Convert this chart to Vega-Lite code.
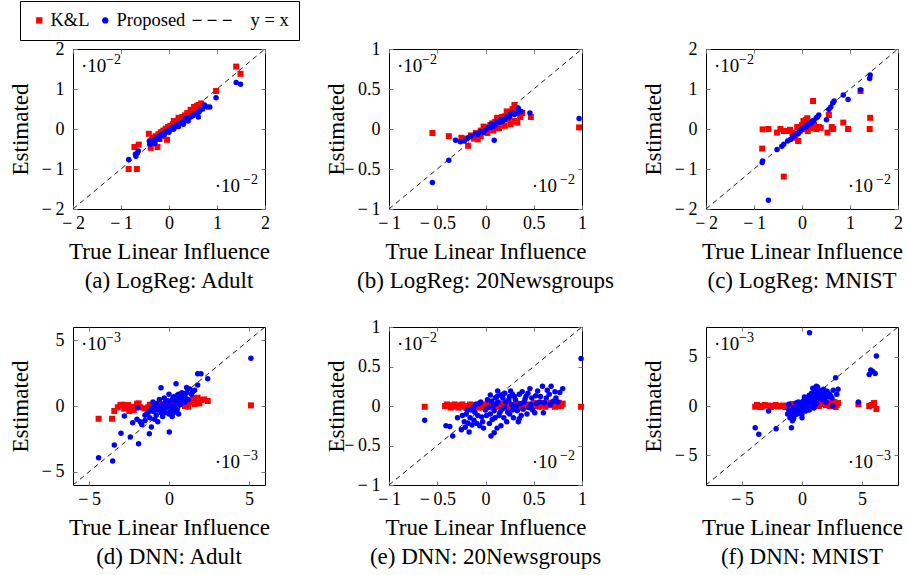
{
  "$schema": "https://vega.github.io/schema/vega-lite/v6.json",
  "padding": {"left": 8, "top": 0, "right": 0, "bottom": 0},
  "datasets": {
    "a": [
      {"s":"y = x","x":-2,"y":-2},{"s":"y = x","x":2,"y":2},
      {"s":"K&L","x":1.40,"y":1.56},{"s":"K&L","x":1.49,"y":1.38},{"s":"K&L","x":0.98,"y":0.95},{"s":"K&L","x":-0.84,"y":-1.00},{"s":"K&L","x":-0.67,"y":-1.00},{"s":"K&L","x":-0.72,"y":-0.45},{"s":"K&L","x":-0.63,"y":-0.39},{"s":"K&L","x":-0.42,"y":-0.12},{"s":"K&L","x":-0.38,"y":-0.47},{"s":"K&L","x":-0.24,"y":-0.45},{"s":"K&L","x":-0.04,"y":-0.27},{"s":"K&L","x":-0.33,"y":-0.22},{"s":"K&L","x":-0.28,"y":-0.18},{"s":"K&L","x":-0.22,"y":-0.13},{"s":"K&L","x":-0.17,"y":-0.08},{"s":"K&L","x":-0.12,"y":-0.04},{"s":"K&L","x":-0.07,"y":0.01},{"s":"K&L","x":-0.02,"y":0.05},{"s":"K&L","x":0.03,"y":0.08},{"s":"K&L","x":0.08,"y":0.12},{"s":"K&L","x":0.13,"y":0.16},{"s":"K&L","x":0.18,"y":0.21},{"s":"K&L","x":0.23,"y":0.25},{"s":"K&L","x":0.28,"y":0.30},{"s":"K&L","x":0.33,"y":0.34},{"s":"K&L","x":0.38,"y":0.40},{"s":"K&L","x":0.45,"y":0.48},{"s":"K&L","x":0.52,"y":0.55},{"s":"K&L","x":0.58,"y":0.58},{"s":"K&L","x":0.67,"y":0.64},{"s":"K&L","x":-0.30,"y":-0.30},{"s":"K&L","x":-0.15,"y":-0.18},{"s":"K&L","x":0.05,"y":0.00},{"s":"K&L","x":0.15,"y":0.07},{"s":"K&L","x":0.25,"y":0.15},{"s":"K&L","x":0.35,"y":0.22},{"s":"K&L","x":0.50,"y":0.40},{"s":"K&L","x":-0.20,"y":-0.25},{"s":"K&L","x":0.10,"y":0.20},{"s":"K&L","x":0.20,"y":0.28},{"s":"K&L","x":-0.35,"y":-0.27},{"s":"K&L","x":-0.25,"y":-0.20},{"s":"K&L","x":-0.10,"y":-0.08},{"s":"K&L","x":0.00,"y":0.00},{"s":"K&L","x":0.12,"y":0.10},{"s":"K&L","x":0.22,"y":0.18},{"s":"K&L","x":0.32,"y":0.26},{"s":"K&L","x":0.42,"y":0.36},{"s":"K&L","x":0.55,"y":0.50},{"s":"K&L","x":0.62,"y":0.60},{"s":"K&L","x":0.70,"y":0.58},{"s":"K&L","x":0.40,"y":0.30},
      {"s":"Proposed","x":1.40,"y":1.16},{"s":"Proposed","x":1.49,"y":1.12},{"s":"Proposed","x":0.98,"y":0.78},{"s":"Proposed","x":-0.84,"y":-0.76},{"s":"Proposed","x":-0.69,"y":-0.68},{"s":"Proposed","x":-0.66,"y":-0.60},{"s":"Proposed","x":-0.64,"y":-0.55},{"s":"Proposed","x":-0.70,"y":-0.63},{"s":"Proposed","x":-0.41,"y":-0.30},{"s":"Proposed","x":-0.40,"y":-0.38},{"s":"Proposed","x":-0.35,"y":-0.34},{"s":"Proposed","x":-0.30,"y":-0.28},{"s":"Proposed","x":-0.25,"y":-0.22},{"s":"Proposed","x":-0.20,"y":-0.18},{"s":"Proposed","x":-0.15,"y":-0.14},{"s":"Proposed","x":-0.10,"y":-0.10},{"s":"Proposed","x":-0.05,"y":-0.06},{"s":"Proposed","x":0.00,"y":-0.02},{"s":"Proposed","x":0.05,"y":0.02},{"s":"Proposed","x":0.10,"y":0.05},{"s":"Proposed","x":0.15,"y":0.09},{"s":"Proposed","x":0.20,"y":0.12},{"s":"Proposed","x":0.25,"y":0.16},{"s":"Proposed","x":0.30,"y":0.20},{"s":"Proposed","x":0.35,"y":0.22},{"s":"Proposed","x":0.40,"y":0.27},{"s":"Proposed","x":0.45,"y":0.30},{"s":"Proposed","x":0.50,"y":0.33},{"s":"Proposed","x":0.55,"y":0.38},{"s":"Proposed","x":0.61,"y":0.30},{"s":"Proposed","x":0.62,"y":0.42},{"s":"Proposed","x":0.70,"y":0.50},{"s":"Proposed","x":0.74,"y":0.60},{"s":"Proposed","x":0.80,"y":0.55},{"s":"Proposed","x":0.85,"y":0.55},{"s":"Proposed","x":-0.30,"y":-0.36},{"s":"Proposed","x":-0.10,"y":-0.15},{"s":"Proposed","x":0.10,"y":0.00},{"s":"Proposed","x":0.20,"y":0.06},{"s":"Proposed","x":0.30,"y":0.12},{"s":"Proposed","x":0.40,"y":0.20},{"s":"Proposed","x":-0.20,"y":-0.25},{"s":"Proposed","x":0.00,"y":-0.08},{"s":"Proposed","x":0.65,"y":0.47},{"s":"Proposed","x":0.58,"y":0.40},{"s":"Proposed","x":0.48,"y":0.34},{"s":"Proposed","x":0.35,"y":0.27}
    ],
    "b": [
      {"s":"y = x","x":-1,"y":-1},{"s":"y = x","x":1,"y":1},
      {"s":"K&L","x":-0.55,"y":-0.05},{"s":"K&L","x":-0.38,"y":-0.09},{"s":"K&L","x":-0.25,"y":-0.11},{"s":"K&L","x":-0.18,"y":-0.21},{"s":"K&L","x":-0.08,"y":-0.13},{"s":"K&L","x":0.33,"y":0.08},{"s":"K&L","x":0.47,"y":0.15},{"s":"K&L","x":0.97,"y":0.02},{"s":"K&L","x":0.30,"y":0.30},{"s":"K&L","x":0.38,"y":0.20},{"s":"K&L","x":-0.20,"y":-0.12},{"s":"K&L","x":-0.15,"y":-0.08},{"s":"K&L","x":-0.10,"y":-0.05},{"s":"K&L","x":-0.05,"y":-0.02},{"s":"K&L","x":0.00,"y":0.02},{"s":"K&L","x":0.05,"y":0.05},{"s":"K&L","x":0.10,"y":0.09},{"s":"K&L","x":0.15,"y":0.12},{"s":"K&L","x":0.20,"y":0.16},{"s":"K&L","x":0.25,"y":0.20},{"s":"K&L","x":0.28,"y":0.25},{"s":"K&L","x":0.32,"y":0.26},{"s":"K&L","x":-0.12,"y":-0.12},{"s":"K&L","x":-0.05,"y":-0.09},{"s":"K&L","x":0.02,"y":-0.05},{"s":"K&L","x":0.08,"y":-0.02},{"s":"K&L","x":0.14,"y":0.01},{"s":"K&L","x":0.20,"y":0.04},{"s":"K&L","x":0.26,"y":0.06},{"s":"K&L","x":0.30,"y":0.10},{"s":"K&L","x":0.22,"y":0.22},{"s":"K&L","x":0.12,"y":0.14},{"s":"K&L","x":-0.02,"y":0.03},{"s":"K&L","x":0.36,"y":0.15},{"s":"K&L","x":0.07,"y":0.07},{"s":"K&L","x":0.17,"y":0.15},{"s":"K&L","x":0.24,"y":0.12},{"s":"K&L","x":0.11,"y":0.02},
      {"s":"Proposed","x":-0.55,"y":-0.67},{"s":"Proposed","x":-0.38,"y":-0.39},{"s":"Proposed","x":-0.31,"y":-0.14},{"s":"Proposed","x":-0.26,"y":-0.16},{"s":"Proposed","x":-0.22,"y":-0.15},{"s":"Proposed","x":0.09,"y":-0.14},{"s":"Proposed","x":0.46,"y":0.20},{"s":"Proposed","x":0.97,"y":0.13},{"s":"Proposed","x":0.37,"y":0.22},{"s":"Proposed","x":0.34,"y":0.26},{"s":"Proposed","x":-0.18,"y":-0.11},{"s":"Proposed","x":-0.15,"y":-0.09},{"s":"Proposed","x":-0.10,"y":-0.06},{"s":"Proposed","x":-0.05,"y":-0.03},{"s":"Proposed","x":0.00,"y":-0.01},{"s":"Proposed","x":0.05,"y":0.02},{"s":"Proposed","x":0.10,"y":0.05},{"s":"Proposed","x":0.15,"y":0.08},{"s":"Proposed","x":0.20,"y":0.12},{"s":"Proposed","x":0.25,"y":0.15},{"s":"Proposed","x":0.30,"y":0.18},{"s":"Proposed","x":0.33,"y":0.20},{"s":"Proposed","x":-0.08,"y":-0.07},{"s":"Proposed","x":0.02,"y":0.01},{"s":"Proposed","x":0.12,"y":0.09},{"s":"Proposed","x":0.22,"y":0.15},{"s":"Proposed","x":0.28,"y":0.20},{"s":"Proposed","x":0.18,"y":0.10},{"s":"Proposed","x":0.08,"y":0.03},{"s":"Proposed","x":-0.02,"y":-0.04},{"s":"Proposed","x":0.16,"y":0.12},{"s":"Proposed","x":0.26,"y":0.19},{"s":"Proposed","x":0.06,"y":0.06}
    ],
    "c": [
      {"s":"y = x","x":-2,"y":-2},{"s":"y = x","x":2,"y":2},
      {"s":"K&L","x":-0.83,"y":-0.49},{"s":"K&L","x":-0.82,"y":-0.01},{"s":"K&L","x":-0.70,"y":0.00},{"s":"K&L","x":-0.52,"y":-0.09},{"s":"K&L","x":-0.38,"y":-0.05},{"s":"K&L","x":-0.38,"y":-1.19},{"s":"K&L","x":-0.14,"y":-0.22},{"s":"K&L","x":-0.08,"y":-0.30},{"s":"K&L","x":0.03,"y":0.20},{"s":"K&L","x":0.11,"y":0.27},{"s":"K&L","x":0.23,"y":0.70},{"s":"K&L","x":0.39,"y":0.03},{"s":"K&L","x":0.53,"y":-0.09},{"s":"K&L","x":0.56,"y":0.35},{"s":"K&L","x":0.65,"y":0.00},{"s":"K&L","x":0.86,"y":0.16},{"s":"K&L","x":0.96,"y":0.00},{"s":"K&L","x":1.22,"y":0.95},{"s":"K&L","x":1.42,"y":0.28},{"s":"K&L","x":1.41,"y":0.00},{"s":"K&L","x":-0.30,"y":-0.05},{"s":"K&L","x":-0.20,"y":-0.10},{"s":"K&L","x":-0.10,"y":0.05},{"s":"K&L","x":0.00,"y":0.10},{"s":"K&L","x":0.05,"y":0.00},{"s":"K&L","x":0.10,"y":0.15},{"s":"K&L","x":0.15,"y":0.05},{"s":"K&L","x":0.20,"y":0.02},{"s":"K&L","x":0.30,"y":0.00},{"s":"K&L","x":0.25,"y":0.10},{"s":"K&L","x":-0.05,"y":-0.05},{"s":"K&L","x":0.08,"y":0.22},{"s":"K&L","x":-0.25,"y":-0.02},{"s":"K&L","x":0.12,"y":-0.05},{"s":"K&L","x":0.35,"y":0.05},{"s":"K&L","x":0.18,"y":0.10},{"s":"K&L","x":-0.45,"y":0.00},{"s":"K&L","x":0.62,"y":0.05},
      {"s":"Proposed","x":-0.70,"y":-1.78},{"s":"Proposed","x":-0.83,"y":-0.84},{"s":"Proposed","x":-0.82,"y":-0.80},{"s":"Proposed","x":-0.52,"y":-0.51},{"s":"Proposed","x":-0.42,"y":-0.43},{"s":"Proposed","x":-0.38,"y":-0.38},{"s":"Proposed","x":-0.24,"y":-0.26},{"s":"Proposed","x":-0.20,"y":-0.20},{"s":"Proposed","x":-0.15,"y":-0.16},{"s":"Proposed","x":-0.10,"y":-0.10},{"s":"Proposed","x":-0.05,"y":-0.06},{"s":"Proposed","x":-0.03,"y":-0.03},{"s":"Proposed","x":0.00,"y":0.00},{"s":"Proposed","x":0.05,"y":0.04},{"s":"Proposed","x":0.10,"y":0.09},{"s":"Proposed","x":0.15,"y":0.13},{"s":"Proposed","x":0.20,"y":0.17},{"s":"Proposed","x":0.25,"y":0.22},{"s":"Proposed","x":0.30,"y":0.28},{"s":"Proposed","x":0.35,"y":0.35},{"s":"Proposed","x":0.32,"y":0.30},{"s":"Proposed","x":0.51,"y":0.23},{"s":"Proposed","x":0.56,"y":0.49},{"s":"Proposed","x":0.60,"y":0.55},{"s":"Proposed","x":0.64,"y":0.65},{"s":"Proposed","x":0.67,"y":0.70},{"s":"Proposed","x":0.86,"y":0.85},{"s":"Proposed","x":0.96,"y":0.74},{"s":"Proposed","x":1.22,"y":0.98},{"s":"Proposed","x":1.42,"y":1.35},{"s":"Proposed","x":1.41,"y":1.26},{"s":"Proposed","x":-0.30,"y":-0.30},{"s":"Proposed","x":0.08,"y":0.05},{"s":"Proposed","x":0.18,"y":0.14},{"s":"Proposed","x":0.22,"y":0.20},{"s":"Proposed","x":0.12,"y":0.10},{"s":"Proposed","x":-0.08,"y":-0.12}
    ],
    "d": [
      {"s":"y = x","x":-6,"y":-6},{"s":"y = x","x":6,"y":6},
      {"s":"K&L","x":-4.4,"y":-0.97},{"s":"K&L","x":-3.56,"y":-0.97},{"s":"K&L","x":-3.42,"y":-0.38},{"s":"K&L","x":-3.04,"y":0.07},{"s":"K&L","x":-2.56,"y":0.07},{"s":"K&L","x":-2.0,"y":0.17},{"s":"K&L","x":-2.48,"y":-0.38},{"s":"K&L","x":-1.54,"y":-0.18},{"s":"K&L","x":-2.2,"y":-0.3},{"s":"K&L","x":-1.8,"y":-0.1},{"s":"K&L","x":-1.2,"y":0.1},{"s":"K&L","x":-0.8,"y":-0.05},{"s":"K&L","x":-0.5,"y":0.15},{"s":"K&L","x":-0.2,"y":0.0},{"s":"K&L","x":0.2,"y":0.1},{"s":"K&L","x":0.5,"y":-0.1},{"s":"K&L","x":0.8,"y":0.2},{"s":"K&L","x":1.0,"y":0.0},{"s":"K&L","x":1.3,"y":0.3},{"s":"K&L","x":1.6,"y":0.15},{"s":"K&L","x":1.79,"y":0.63},{"s":"K&L","x":2.42,"y":0.38},{"s":"K&L","x":2.0,"y":0.45},{"s":"K&L","x":1.9,"y":0.2},{"s":"K&L","x":1.5,"y":0.6},{"s":"K&L","x":5.12,"y":0.05},{"s":"K&L","x":-2.8,"y":-0.2},{"s":"K&L","x":-1.0,"y":-0.3},{"s":"K&L","x":0.0,"y":0.3},{"s":"K&L","x":1.2,"y":-0.05},{"s":"K&L","x":-2.9,"y":0.1},{"s":"K&L","x":-2.3,"y":-0.05},{"s":"K&L","x":-1.9,"y":0.2},{"s":"K&L","x":-1.3,"y":-0.1},{"s":"K&L","x":-0.6,"y":0.05},{"s":"K&L","x":0.4,"y":0.1},{"s":"K&L","x":1.1,"y":0.2},{"s":"K&L","x":1.7,"y":0.35},{"s":"K&L","x":2.2,"y":0.5},{"s":"K&L","x":-3.2,"y":-0.1},
      {"s":"Proposed","x":-4.4,"y":-3.93},{"s":"Proposed","x":-3.52,"y":-4.18},{"s":"Proposed","x":-3.42,"y":-2.96},{"s":"Proposed","x":-3.0,"y":-2.07},{"s":"Proposed","x":-2.42,"y":-2.36},{"s":"Proposed","x":-1.9,"y":-2.86},{"s":"Proposed","x":-1.23,"y":-2.1},{"s":"Proposed","x":0.02,"y":-1.98},{"s":"Proposed","x":-2.27,"y":-1.27},{"s":"Proposed","x":-1.96,"y":-0.13},{"s":"Proposed","x":-0.5,"y":1.39},{"s":"Proposed","x":0.44,"y":1.69},{"s":"Proposed","x":1.79,"y":2.45},{"s":"Proposed","x":2.0,"y":2.45},{"s":"Proposed","x":2.42,"y":2.07},{"s":"Proposed","x":1.79,"y":1.6},{"s":"Proposed","x":1.5,"y":1.1},{"s":"Proposed","x":5.12,"y":3.62},{"s":"Proposed","x":-1.5,"y":-1.1},{"s":"Proposed","x":-2.79,"y":-0.76},{"s":"Proposed","x":-2.0,"y":-1.0},{"s":"Proposed","x":-1.7,"y":-1.4},{"s":"Proposed","x":-1.4,"y":-0.6},{"s":"Proposed","x":-1.2,"y":-0.9},{"s":"Proposed","x":-1.0,"y":-0.4},{"s":"Proposed","x":-0.8,"y":-0.7},{"s":"Proposed","x":-0.6,"y":-0.2},{"s":"Proposed","x":-0.5,"y":-0.5},{"s":"Proposed","x":-0.4,"y":0.1},{"s":"Proposed","x":-0.3,"y":-0.3},{"s":"Proposed","x":-0.2,"y":0.3},{"s":"Proposed","x":-0.1,"y":-0.1},{"s":"Proposed","x":0.0,"y":0.2},{"s":"Proposed","x":0.1,"y":-0.4},{"s":"Proposed","x":0.2,"y":0.5},{"s":"Proposed","x":0.3,"y":0.0},{"s":"Proposed","x":0.4,"y":0.3},{"s":"Proposed","x":0.5,"y":0.8},{"s":"Proposed","x":0.6,"y":0.2},{"s":"Proposed","x":0.7,"y":0.6},{"s":"Proposed","x":0.8,"y":1.0},{"s":"Proposed","x":0.9,"y":0.4},{"s":"Proposed","x":1.0,"y":0.7},{"s":"Proposed","x":1.2,"y":0.5},{"s":"Proposed","x":1.3,"y":1.3},{"s":"Proposed","x":-0.9,"y":0.0},{"s":"Proposed","x":-0.7,"y":-1.2},{"s":"Proposed","x":-0.3,"y":0.6},{"s":"Proposed","x":0.2,"y":-0.8},{"s":"Proposed","x":0.6,"y":-0.6},{"s":"Proposed","x":-1.1,"y":-1.6},{"s":"Proposed","x":0.0,"y":0.9},{"s":"Proposed","x":1.1,"y":1.0},{"s":"Proposed","x":-0.6,"y":0.5},{"s":"Proposed","x":0.4,"y":-0.2},{"s":"Proposed","x":-1.3,"y":-0.5},{"s":"Proposed","x":-1.1,"y":-0.2},{"s":"Proposed","x":-0.9,"y":-1.0},{"s":"Proposed","x":-0.7,"y":-0.3},{"s":"Proposed","x":-0.5,"y":0.0},{"s":"Proposed","x":-0.4,"y":-0.8},{"s":"Proposed","x":-0.2,"y":-0.5},{"s":"Proposed","x":-0.1,"y":0.4},{"s":"Proposed","x":0.1,"y":0.1},{"s":"Proposed","x":0.2,"y":-0.2},{"s":"Proposed","x":0.3,"y":0.7},{"s":"Proposed","x":0.5,"y":0.4},{"s":"Proposed","x":0.6,"y":0.9},{"s":"Proposed","x":0.7,"y":0.1},{"s":"Proposed","x":0.9,"y":0.8},{"s":"Proposed","x":1.0,"y":0.3},{"s":"Proposed","x":1.1,"y":1.4},{"s":"Proposed","x":1.4,"y":0.9},{"s":"Proposed","x":0.3,"y":-0.5},{"s":"Proposed","x":-0.8,"y":0.2},{"s":"Proposed","x":-1.5,"y":-0.7},{"s":"Proposed","x":-1.8,"y":-1.2},{"s":"Proposed","x":0.0,"y":-0.6},{"s":"Proposed","x":0.8,"y":0.5},{"s":"Proposed","x":-0.3,"y":-0.1},{"s":"Proposed","x":1.6,"y":1.2},{"s":"Proposed","x":-1.0,"y":0.3},{"s":"Proposed","x":0.5,"y":-0.3}
    ],
    "e": [
      {"s":"y = x","x":-1,"y":-1},{"s":"y = x","x":1,"y":1},
      {"s":"K&L","x":-0.63,"y":-0.01},{"s":"K&L","x":0.99,"y":-0.01},{"s":"K&L","x":-0.42,"y":0.0},{"s":"K&L","x":-0.38,"y":0.01},{"s":"K&L","x":-0.34,"y":-0.01},{"s":"K&L","x":-0.30,"y":0.0},{"s":"K&L","x":-0.26,"y":0.01},{"s":"K&L","x":-0.22,"y":-0.01},{"s":"K&L","x":-0.18,"y":0.0},{"s":"K&L","x":-0.14,"y":0.01},{"s":"K&L","x":-0.10,"y":-0.02},{"s":"K&L","x":-0.06,"y":0.0},{"s":"K&L","x":-0.02,"y":0.01},{"s":"K&L","x":0.02,"y":-0.01},{"s":"K&L","x":0.06,"y":0.0},{"s":"K&L","x":0.10,"y":0.02},{"s":"K&L","x":0.14,"y":-0.01},{"s":"K&L","x":0.18,"y":0.0},{"s":"K&L","x":0.22,"y":0.02},{"s":"K&L","x":0.26,"y":-0.02},{"s":"K&L","x":0.30,"y":0.01},{"s":"K&L","x":0.34,"y":0.0},{"s":"K&L","x":0.38,"y":0.02},{"s":"K&L","x":0.42,"y":-0.01},{"s":"K&L","x":0.46,"y":0.01},{"s":"K&L","x":0.50,"y":0.03},{"s":"K&L","x":0.54,"y":0.0},{"s":"K&L","x":0.58,"y":0.02},{"s":"K&L","x":0.62,"y":-0.01},{"s":"K&L","x":0.66,"y":0.03},{"s":"K&L","x":0.70,"y":0.01},{"s":"K&L","x":0.74,"y":0.02},{"s":"K&L","x":0.78,"y":0.0},{"s":"K&L","x":0.80,"y":0.03},{"s":"K&L","x":-0.40,"y":0.02},{"s":"K&L","x":-0.36,"y":-0.02},{"s":"K&L","x":-0.32,"y":0.02},{"s":"K&L","x":-0.28,"y":-0.02},{"s":"K&L","x":-0.24,"y":0.02},{"s":"K&L","x":-0.20,"y":-0.02},{"s":"K&L","x":-0.16,"y":0.02},{"s":"K&L","x":-0.12,"y":0.01},{"s":"K&L","x":-0.08,"y":0.02},{"s":"K&L","x":-0.04,"y":-0.02},{"s":"K&L","x":0.00,"y":0.02},{"s":"K&L","x":0.04,"y":0.02},{"s":"K&L","x":0.08,"y":-0.02},{"s":"K&L","x":0.12,"y":0.01},{"s":"K&L","x":0.16,"y":0.03},{"s":"K&L","x":0.20,"y":-0.02},{"s":"K&L","x":0.24,"y":0.03},{"s":"K&L","x":0.28,"y":0.01},{"s":"K&L","x":0.32,"y":0.03},{"s":"K&L","x":0.36,"y":-0.02},{"s":"K&L","x":0.40,"y":0.03},{"s":"K&L","x":0.44,"y":0.02},{"s":"K&L","x":0.48,"y":-0.02},{"s":"K&L","x":0.52,"y":0.04},{"s":"K&L","x":0.56,"y":-0.01},{"s":"K&L","x":0.60,"y":0.04},{"s":"K&L","x":0.64,"y":0.01},{"s":"K&L","x":0.68,"y":0.04},{"s":"K&L","x":0.72,"y":-0.01},{"s":"K&L","x":0.76,"y":0.04},{"s":"K&L","x":0.79,"y":0.02},
      {"s":"Proposed","x":-0.63,"y":-0.18},{"s":"Proposed","x":0.99,"y":0.60},{"s":"Proposed","x":-0.41,"y":-0.25},{"s":"Proposed","x":-0.37,"y":-0.26},{"s":"Proposed","x":-0.34,"y":-0.38},{"s":"Proposed","x":-0.29,"y":-0.15},{"s":"Proposed","x":-0.25,"y":-0.30},{"s":"Proposed","x":-0.22,"y":-0.20},{"s":"Proposed","x":-0.20,"y":-0.10},{"s":"Proposed","x":-0.17,"y":-0.33},{"s":"Proposed","x":-0.15,"y":-0.05},{"s":"Proposed","x":-0.12,"y":-0.18},{"s":"Proposed","x":-0.10,"y":0.02},{"s":"Proposed","x":-0.08,"y":-0.12},{"s":"Proposed","x":-0.05,"y":0.05},{"s":"Proposed","x":-0.03,"y":-0.20},{"s":"Proposed","x":0.00,"y":-0.05},{"s":"Proposed","x":0.02,"y":0.08},{"s":"Proposed","x":0.057,"y":-0.38},{"s":"Proposed","x":0.09,"y":-0.34},{"s":"Proposed","x":0.05,"y":-0.10},{"s":"Proposed","x":0.08,"y":0.0},{"s":"Proposed","x":0.10,"y":-0.15},{"s":"Proposed","x":0.126,"y":0.19},{"s":"Proposed","x":0.13,"y":0.05},{"s":"Proposed","x":0.15,"y":-0.08},{"s":"Proposed","x":0.18,"y":0.10},{"s":"Proposed","x":0.20,"y":-0.02},{"s":"Proposed","x":0.22,"y":-0.20},{"s":"Proposed","x":0.24,"y":0.08},{"s":"Proposed","x":0.26,"y":0.19},{"s":"Proposed","x":0.28,"y":-0.05},{"s":"Proposed","x":0.30,"y":0.12},{"s":"Proposed","x":0.32,"y":0.0},{"s":"Proposed","x":0.35,"y":0.15},{"s":"Proposed","x":0.37,"y":-0.12},{"s":"Proposed","x":0.40,"y":0.05},{"s":"Proposed","x":0.42,"y":0.12},{"s":"Proposed","x":0.45,"y":-0.02},{"s":"Proposed","x":0.48,"y":0.10},{"s":"Proposed","x":0.51,"y":-0.085},{"s":"Proposed","x":0.54,"y":0.19},{"s":"Proposed","x":0.56,"y":0.05},{"s":"Proposed","x":0.59,"y":0.25},{"s":"Proposed","x":0.60,"y":-0.085},{"s":"Proposed","x":0.63,"y":0.10},{"s":"Proposed","x":0.66,"y":0.15},{"s":"Proposed","x":0.68,"y":0.25},{"s":"Proposed","x":0.70,"y":0.06},{"s":"Proposed","x":0.72,"y":0.18},{"s":"Proposed","x":0.75,"y":0.05},{"s":"Proposed","x":0.80,"y":0.22},{"s":"Proposed","x":-0.06,"y":-0.25},{"s":"Proposed","x":0.16,"y":-0.25},{"s":"Proposed","x":0.34,"y":-0.20},{"s":"Proposed","x":0.12,"y":0.12},{"s":"Proposed","x":-0.18,"y":-0.22},{"s":"Proposed","x":0.25,"y":-0.10},{"s":"Proposed","x":-0.24,"y":-0.12},{"s":"Proposed","x":-0.21,"y":-0.27},{"s":"Proposed","x":-0.19,"y":-0.05},{"s":"Proposed","x":-0.16,"y":-0.15},{"s":"Proposed","x":-0.14,"y":-0.24},{"s":"Proposed","x":-0.11,"y":-0.08},{"s":"Proposed","x":-0.09,"y":-0.22},{"s":"Proposed","x":-0.07,"y":0.03},{"s":"Proposed","x":-0.04,"y":-0.14},{"s":"Proposed","x":-0.02,"y":-0.28},{"s":"Proposed","x":0.01,"y":-0.12},{"s":"Proposed","x":0.03,"y":-0.02},{"s":"Proposed","x":0.04,"y":-0.22},{"s":"Proposed","x":0.06,"y":0.06},{"s":"Proposed","x":0.07,"y":-0.17},{"s":"Proposed","x":0.09,"y":-0.06},{"s":"Proposed","x":0.11,"y":0.03},{"s":"Proposed","x":0.12,"y":-0.28},{"s":"Proposed","x":0.14,"y":-0.12},{"s":"Proposed","x":0.16,"y":0.14},{"s":"Proposed","x":0.17,"y":-0.04},{"s":"Proposed","x":0.19,"y":-0.15},{"s":"Proposed","x":0.21,"y":0.05},{"s":"Proposed","x":0.23,"y":-0.08},{"s":"Proposed","x":0.25,"y":0.12},{"s":"Proposed","x":0.27,"y":0.02},{"s":"Proposed","x":0.29,"y":-0.15},{"s":"Proposed","x":0.31,"y":0.08},{"s":"Proposed","x":0.33,"y":-0.06},{"s":"Proposed","x":0.36,"y":0.03},{"s":"Proposed","x":0.38,"y":0.18},{"s":"Proposed","x":0.39,"y":-0.04},{"s":"Proposed","x":0.41,"y":0.09},{"s":"Proposed","x":0.43,"y":-0.10},{"s":"Proposed","x":0.44,"y":0.16},{"s":"Proposed","x":0.47,"y":0.02},{"s":"Proposed","x":0.49,"y":-0.05},{"s":"Proposed","x":0.52,"y":0.13},{"s":"Proposed","x":0.53,"y":0.03},{"s":"Proposed","x":0.57,"y":0.12},{"s":"Proposed","x":0.61,"y":0.04},{"s":"Proposed","x":0.64,"y":0.20},{"s":"Proposed","x":0.67,"y":0.02},{"s":"Proposed","x":0.73,"y":0.10},{"s":"Proposed","x":0.77,"y":0.17},{"s":"Proposed","x":0.05,"y":0.14},{"s":"Proposed","x":0.20,"y":0.16},{"s":"Proposed","x":-0.13,"y":-0.02},{"s":"Proposed","x":0.10,"y":0.10},{"s":"Proposed","x":0.28,"y":0.15},{"s":"Proposed","x":0.35,"y":-0.16},{"s":"Proposed","x":0.46,"y":0.22}
    ],
    "f": [
      {"s":"y = x","x":-8,"y":-8},{"s":"y = x","x":8,"y":8},
      {"s":"K&L","x":-3.9,"y":-0.07},{"s":"K&L","x":-3.6,"y":0.0},{"s":"K&L","x":-3.3,"y":-0.05},{"s":"K&L","x":-2.8,"y":0.05},{"s":"K&L","x":-2.4,"y":0.0},{"s":"K&L","x":-2.0,"y":-0.05},{"s":"K&L","x":-1.6,"y":0.05},{"s":"K&L","x":-1.2,"y":0.0},{"s":"K&L","x":-0.8,"y":0.2},{"s":"K&L","x":-0.4,"y":0.05},{"s":"K&L","x":0.0,"y":0.1},{"s":"K&L","x":0.4,"y":0.2},{"s":"K&L","x":0.8,"y":0.1},{"s":"K&L","x":1.2,"y":0.15},{"s":"K&L","x":1.6,"y":0.2},{"s":"K&L","x":2.0,"y":0.1},{"s":"K&L","x":2.3,"y":0.0},{"s":"K&L","x":2.6,"y":0.2},{"s":"K&L","x":3.0,"y":0.3},{"s":"K&L","x":2.8,"y":-0.1},{"s":"K&L","x":4.7,"y":0.17},{"s":"K&L","x":5.6,"y":0.0},{"s":"K&L","x":6.0,"y":0.3},{"s":"K&L","x":6.2,"y":-0.3},{"s":"K&L","x":5.8,"y":0.1},{"s":"K&L","x":-1.0,"y":-0.2},{"s":"K&L","x":0.2,"y":-0.1},{"s":"K&L","x":1.0,"y":0.3},{"s":"K&L","x":-3.75,"y":0.1},{"s":"K&L","x":-3.45,"y":-0.1},{"s":"K&L","x":-3.1,"y":0.1},{"s":"K&L","x":-2.6,"y":-0.1},{"s":"K&L","x":-2.2,"y":0.1},{"s":"K&L","x":-1.8,"y":0.0},{"s":"K&L","x":-1.4,"y":-0.1},{"s":"K&L","x":-0.6,"y":-0.1},{"s":"K&L","x":-0.2,"y":0.15},{"s":"K&L","x":0.6,"y":0.0},{"s":"K&L","x":1.4,"y":0.0},{"s":"K&L","x":1.8,"y":0.25},{"s":"K&L","x":2.2,"y":0.3},{"s":"K&L","x":2.7,"y":0.4},{"s":"K&L","x":2.9,"y":0.1},
      {"s":"Proposed","x":0.63,"y":7.42},{"s":"Proposed","x":6.2,"y":5.06},{"s":"Proposed","x":5.73,"y":3.65},{"s":"Proposed","x":6.1,"y":3.3},{"s":"Proposed","x":5.6,"y":3.2},{"s":"Proposed","x":5.9,"y":3.5},{"s":"Proposed","x":4.7,"y":0.4},{"s":"Proposed","x":2.8,"y":2.87},{"s":"Proposed","x":3.0,"y":1.7},{"s":"Proposed","x":2.9,"y":1.2},{"s":"Proposed","x":2.57,"y":0.0},{"s":"Proposed","x":-3.9,"y":-2.2},{"s":"Proposed","x":-3.6,"y":-2.87},{"s":"Proposed","x":-2.16,"y":-2.3},{"s":"Proposed","x":-0.88,"y":-2.2},{"s":"Proposed","x":-2.78,"y":-0.5},{"s":"Proposed","x":-1.1,"y":0.17},{"s":"Proposed","x":-1.2,"y":-0.8},{"s":"Proposed","x":-1.0,"y":-1.2},{"s":"Proposed","x":-0.8,"y":-0.5},{"s":"Proposed","x":-0.6,"y":-0.9},{"s":"Proposed","x":-0.5,"y":0.3},{"s":"Proposed","x":-0.4,"y":-0.3},{"s":"Proposed","x":-0.2,"y":-0.7},{"s":"Proposed","x":0.0,"y":0.0},{"s":"Proposed","x":0.1,"y":0.5},{"s":"Proposed","x":0.2,"y":-0.4},{"s":"Proposed","x":0.3,"y":0.8},{"s":"Proposed","x":0.4,"y":0.2},{"s":"Proposed","x":0.5,"y":-0.2},{"s":"Proposed","x":0.6,"y":1.1},{"s":"Proposed","x":0.7,"y":0.5},{"s":"Proposed","x":0.8,"y":1.3},{"s":"Proposed","x":0.9,"y":0.0},{"s":"Proposed","x":1.0,"y":0.9},{"s":"Proposed","x":1.1,"y":1.6},{"s":"Proposed","x":1.2,"y":0.6},{"s":"Proposed","x":1.3,"y":1.9},{"s":"Proposed","x":1.4,"y":1.2},{"s":"Proposed","x":1.5,"y":0.8},{"s":"Proposed","x":1.6,"y":1.5},{"s":"Proposed","x":1.8,"y":1.0},{"s":"Proposed","x":2.0,"y":1.3},{"s":"Proposed","x":2.2,"y":0.9},{"s":"Proposed","x":0.2,"y":0.9},{"s":"Proposed","x":-0.3,"y":0.4},{"s":"Proposed","x":0.5,"y":0.7},{"s":"Proposed","x":1.0,"y":-0.2},{"s":"Proposed","x":0.0,"y":-0.8},{"s":"Proposed","x":1.2,"y":2.0},{"s":"Proposed","x":2.4,"y":1.0},{"s":"Proposed","x":-0.7,"y":-1.3},{"s":"Proposed","x":-1.1,"y":-0.4},{"s":"Proposed","x":-0.9,"y":-0.9},{"s":"Proposed","x":-0.7,"y":-0.2},{"s":"Proposed","x":-0.6,"y":-0.6},{"s":"Proposed","x":-0.4,"y":-0.8},{"s":"Proposed","x":-0.3,"y":-0.1},{"s":"Proposed","x":-0.1,"y":-0.4},{"s":"Proposed","x":-0.1,"y":0.3},{"s":"Proposed","x":0.1,"y":-0.2},{"s":"Proposed","x":0.2,"y":0.2},{"s":"Proposed","x":0.3,"y":-0.5},{"s":"Proposed","x":0.4,"y":0.6},{"s":"Proposed","x":0.5,"y":0.3},{"s":"Proposed","x":0.6,"y":-0.4},{"s":"Proposed","x":0.7,"y":0.9},{"s":"Proposed","x":0.8,"y":0.4},{"s":"Proposed","x":0.9,"y":1.0},{"s":"Proposed","x":1.0,"y":0.5},{"s":"Proposed","x":1.1,"y":1.2},{"s":"Proposed","x":1.2,"y":1.1},{"s":"Proposed","x":1.3,"y":0.7},{"s":"Proposed","x":1.4,"y":1.6},{"s":"Proposed","x":1.5,"y":1.2},{"s":"Proposed","x":1.6,"y":0.9},{"s":"Proposed","x":1.7,"y":1.3},{"s":"Proposed","x":1.8,"y":1.7},{"s":"Proposed","x":1.9,"y":0.8},{"s":"Proposed","x":2.1,"y":1.5},{"s":"Proposed","x":2.3,"y":1.2},{"s":"Proposed","x":2.5,"y":0.8},{"s":"Proposed","x":2.6,"y":1.6},{"s":"Proposed","x":0.9,"y":1.8},{"s":"Proposed","x":0.6,"y":0.5},{"s":"Proposed","x":0.3,"y":0.3},{"s":"Proposed","x":-0.5,"y":-0.4},{"s":"Proposed","x":1.2,"y":0.2},{"s":"Proposed","x":1.7,"y":0.6},{"s":"Proposed","x":-0.8,"y":-1.5},{"s":"Proposed","x":0.0,"y":-1.2},{"s":"Proposed","x":2.0,"y":0.4}
    ]
  },
  "columns": 3,
  "spacing": {"row": 118, "column": 124},
  "bounds": "flush",
  "concat": [
    {
      "width": 192, "height": 160, "data": {"name": "a"}, "title": "(a) LogReg: Adult",
      "layer": [
        {"transform": [{"filter": "datum.s === 'y = x'"}], "mark": {"type": "line", "stroke": "black", "strokeWidth": 0.9, "strokeDash": [5, 4], "clip": true},
         "encoding": {"x": {"field": "x", "type": "quantitative", "scale": {"domain": [-2, 2]}, "axis": {"values": [-2, -1, 0, 1, 2], "format": "~g", "labelExpr": "replace(datum.label, '\u2212', '\u2212\u2009')", "title": "True Linear Influence"}},
                      "y": {"field": "y", "type": "quantitative", "scale": {"domain": [-2, 2]}, "axis": {"values": [-2, -1, 0, 1, 2], "format": "~g", "labelExpr": "replace(datum.label, '\u2212', '\u2212\u2009')", "title": "Estimated"}}}},
        {"transform": [{"filter": "datum.s !== 'y = x'"}], "mark": {"type": "point", "filled": true, "opacity": 1},
         "encoding": {"x": {"field": "x", "type": "quantitative", "axis": {"orient": "top", "values": [-2, -1, 0, 1, 2], "labels": false, "title": null}},
                      "y": {"field": "y", "type": "quantitative", "axis": {"orient": "right", "values": [-2, -1, 0, 1, 2], "labels": false, "title": null}},
                      "color": {"field": "s", "type": "nominal", "scale": {"domain": ["K&L", "Proposed", "y = x"], "range": ["#ff0000", "#0000ff", "#000000"]},
                                "legend": {"orient": "none", "direction": "horizontal", "legendX": -53, "legendY": -48, "title": null, "strokeColor": "black", "fillColor": "white", "padding": 10, "cornerRadius": 0, "labelFont": "Liberation Serif", "labelFontSize": 18.5, "labelColor": "black", "labelLimit": 0, "labelOffset": 2, "columnPadding": 6, "symbolSize": 40}},
                      "shape": {"field": "s", "type": "nominal", "scale": {"domain": ["K&L", "Proposed", "y = x"], "range": ["square", "circle", "M-14.75,-0.16H-11.9V0.16H-14.75Z M-10,-0.16H-7.15V0.16H-10Z M-5.25,-0.16H-2.4V0.16H-5.25Z"]},
                                "legend": {"orient": "none", "direction": "horizontal", "legendX": -53, "legendY": -48, "title": null, "strokeColor": "black", "fillColor": "white", "padding": 10, "cornerRadius": 0, "labelFont": "Liberation Serif", "labelFontSize": 18.5, "labelColor": "black", "labelLimit": 0, "labelOffset": 2, "columnPadding": 6, "symbolSize": 40}},
                      "size": {"field": "s", "type": "nominal", "scale": {"domain": ["K&L", "Proposed"], "range": [36, 30]}, "legend": null}}},
        {"data": {"values": [{}]}, "mark": {"type": "text", "align": "left", "baseline": "alphabetic", "dx": 8, "dy": 23, "font": "Liberation Serif", "fontSize": 19, "color": "black"},
         "encoding": {"x": {"datum": -2, "type": "quantitative", "axis": null}, "y": {"datum": 2, "type": "quantitative", "axis": null}, "text": {"value": "·10"}}},
        {"data": {"values": [{}]}, "mark": {"type": "text", "align": "left", "baseline": "alphabetic", "dx": 33, "dy": 15, "font": "Liberation Serif", "fontSize": 14, "color": "black"},
         "encoding": {"x": {"datum": -2, "type": "quantitative", "axis": null}, "y": {"datum": 2, "type": "quantitative", "axis": null}, "text": {"value": "−2"}}},
        {"data": {"values": [{}]}, "mark": {"type": "text", "align": "right", "baseline": "alphabetic", "dx": -25, "dy": -17, "font": "Liberation Serif", "fontSize": 19, "color": "black"},
         "encoding": {"x": {"datum": 2, "type": "quantitative", "axis": null}, "y": {"datum": -2, "type": "quantitative", "axis": null}, "text": {"value": "·10"}}},
        {"data": {"values": [{}]}, "mark": {"type": "text", "align": "right", "baseline": "alphabetic", "dx": -7, "dy": -25, "font": "Liberation Serif", "fontSize": 14, "color": "black"},
         "encoding": {"x": {"datum": 2, "type": "quantitative", "axis": null}, "y": {"datum": -2, "type": "quantitative", "axis": null}, "text": {"value": "−2"}}}
      ],
      "resolve": {"axis": {"x": "independent", "y": "independent"}}
    },
    {
      "width": 193, "height": 160, "data": {"name": "b"}, "title": "(b) LogReg: 20Newsgroups",
      "layer": [
        {"transform": [{"filter": "datum.s === 'y = x'"}], "mark": {"type": "line", "stroke": "black", "strokeWidth": 0.9, "strokeDash": [5, 4], "clip": true},
         "encoding": {"x": {"field": "x", "type": "quantitative", "scale": {"domain": [-1, 1]}, "axis": {"values": [-1, -0.5, 0, 0.5, 1], "format": "~g", "labelExpr": "replace(datum.label, '\u2212', '\u2212\u2009')", "title": "True Linear Influence"}},
                      "y": {"field": "y", "type": "quantitative", "scale": {"domain": [-1, 1]}, "axis": {"values": [-1, -0.5, 0, 0.5, 1], "format": "~g", "labelExpr": "replace(datum.label, '\u2212', '\u2212\u2009')", "title": "Estimated"}}}},
        {"transform": [{"filter": "datum.s !== 'y = x'"}], "mark": {"type": "point", "filled": true, "opacity": 1},
         "encoding": {"x": {"field": "x", "type": "quantitative", "axis": {"orient": "top", "values": [-1, -0.5, 0, 0.5, 1], "labels": false, "title": null}},
                      "y": {"field": "y", "type": "quantitative", "axis": {"orient": "right", "values": [-1, -0.5, 0, 0.5, 1], "labels": false, "title": null}},
                      "color": {"field": "s", "type": "nominal", "scale": {"domain": ["K&L", "Proposed", "y = x"], "range": ["#ff0000", "#0000ff", "#000000"]},
                                "legend": {"orient": "none", "direction": "horizontal", "legendX": -53, "legendY": -48, "title": null, "strokeColor": "black", "fillColor": "white", "padding": 10, "cornerRadius": 0, "labelFont": "Liberation Serif", "labelFontSize": 18.5, "labelColor": "black", "labelLimit": 0, "labelOffset": 2, "columnPadding": 6, "symbolSize": 40}},
                      "shape": {"field": "s", "type": "nominal", "scale": {"domain": ["K&L", "Proposed", "y = x"], "range": ["square", "circle", "M-14.75,-0.16H-11.9V0.16H-14.75Z M-10,-0.16H-7.15V0.16H-10Z M-5.25,-0.16H-2.4V0.16H-5.25Z"]},
                                "legend": {"orient": "none", "direction": "horizontal", "legendX": -53, "legendY": -48, "title": null, "strokeColor": "black", "fillColor": "white", "padding": 10, "cornerRadius": 0, "labelFont": "Liberation Serif", "labelFontSize": 18.5, "labelColor": "black", "labelLimit": 0, "labelOffset": 2, "columnPadding": 6, "symbolSize": 40}},
                      "size": {"field": "s", "type": "nominal", "scale": {"domain": ["K&L", "Proposed"], "range": [36, 30]}, "legend": null}}},
        {"data": {"values": [{}]}, "mark": {"type": "text", "align": "left", "baseline": "alphabetic", "dx": 8, "dy": 23, "font": "Liberation Serif", "fontSize": 19, "color": "black"},
         "encoding": {"x": {"datum": -1, "type": "quantitative", "axis": null}, "y": {"datum": 1, "type": "quantitative", "axis": null}, "text": {"value": "·10"}}},
        {"data": {"values": [{}]}, "mark": {"type": "text", "align": "left", "baseline": "alphabetic", "dx": 33, "dy": 15, "font": "Liberation Serif", "fontSize": 14, "color": "black"},
         "encoding": {"x": {"datum": -1, "type": "quantitative", "axis": null}, "y": {"datum": 1, "type": "quantitative", "axis": null}, "text": {"value": "−2"}}},
        {"data": {"values": [{}]}, "mark": {"type": "text", "align": "right", "baseline": "alphabetic", "dx": -25, "dy": -17, "font": "Liberation Serif", "fontSize": 19, "color": "black"},
         "encoding": {"x": {"datum": 1, "type": "quantitative", "axis": null}, "y": {"datum": -1, "type": "quantitative", "axis": null}, "text": {"value": "·10"}}},
        {"data": {"values": [{}]}, "mark": {"type": "text", "align": "right", "baseline": "alphabetic", "dx": -7, "dy": -25, "font": "Liberation Serif", "fontSize": 14, "color": "black"},
         "encoding": {"x": {"datum": 1, "type": "quantitative", "axis": null}, "y": {"datum": -1, "type": "quantitative", "axis": null}, "text": {"value": "−2"}}}
      ],
      "resolve": {"axis": {"x": "independent", "y": "independent"}}
    },
    {
      "width": 192, "height": 160, "data": {"name": "c"}, "title": "(c) LogReg: MNIST",
      "layer": [
        {"transform": [{"filter": "datum.s === 'y = x'"}], "mark": {"type": "line", "stroke": "black", "strokeWidth": 0.9, "strokeDash": [5, 4], "clip": true},
         "encoding": {"x": {"field": "x", "type": "quantitative", "scale": {"domain": [-2, 2]}, "axis": {"values": [-2, -1, 0, 1, 2], "format": "~g", "labelExpr": "replace(datum.label, '\u2212', '\u2212\u2009')", "title": "True Linear Influence"}},
                      "y": {"field": "y", "type": "quantitative", "scale": {"domain": [-2, 2]}, "axis": {"values": [-2, -1, 0, 1, 2], "format": "~g", "labelExpr": "replace(datum.label, '\u2212', '\u2212\u2009')", "title": "Estimated"}}}},
        {"transform": [{"filter": "datum.s !== 'y = x'"}], "mark": {"type": "point", "filled": true, "opacity": 1},
         "encoding": {"x": {"field": "x", "type": "quantitative", "axis": {"orient": "top", "values": [-2, -1, 0, 1, 2], "labels": false, "title": null}},
                      "y": {"field": "y", "type": "quantitative", "axis": {"orient": "right", "values": [-2, -1, 0, 1, 2], "labels": false, "title": null}},
                      "color": {"field": "s", "type": "nominal", "scale": {"domain": ["K&L", "Proposed", "y = x"], "range": ["#ff0000", "#0000ff", "#000000"]},
                                "legend": {"orient": "none", "direction": "horizontal", "legendX": -53, "legendY": -48, "title": null, "strokeColor": "black", "fillColor": "white", "padding": 10, "cornerRadius": 0, "labelFont": "Liberation Serif", "labelFontSize": 18.5, "labelColor": "black", "labelLimit": 0, "labelOffset": 2, "columnPadding": 6, "symbolSize": 40}},
                      "shape": {"field": "s", "type": "nominal", "scale": {"domain": ["K&L", "Proposed", "y = x"], "range": ["square", "circle", "M-14.75,-0.16H-11.9V0.16H-14.75Z M-10,-0.16H-7.15V0.16H-10Z M-5.25,-0.16H-2.4V0.16H-5.25Z"]},
                                "legend": {"orient": "none", "direction": "horizontal", "legendX": -53, "legendY": -48, "title": null, "strokeColor": "black", "fillColor": "white", "padding": 10, "cornerRadius": 0, "labelFont": "Liberation Serif", "labelFontSize": 18.5, "labelColor": "black", "labelLimit": 0, "labelOffset": 2, "columnPadding": 6, "symbolSize": 40}},
                      "size": {"field": "s", "type": "nominal", "scale": {"domain": ["K&L", "Proposed"], "range": [36, 30]}, "legend": null}}},
        {"data": {"values": [{}]}, "mark": {"type": "text", "align": "left", "baseline": "alphabetic", "dx": 8, "dy": 23, "font": "Liberation Serif", "fontSize": 19, "color": "black"},
         "encoding": {"x": {"datum": -2, "type": "quantitative", "axis": null}, "y": {"datum": 2, "type": "quantitative", "axis": null}, "text": {"value": "·10"}}},
        {"data": {"values": [{}]}, "mark": {"type": "text", "align": "left", "baseline": "alphabetic", "dx": 33, "dy": 15, "font": "Liberation Serif", "fontSize": 14, "color": "black"},
         "encoding": {"x": {"datum": -2, "type": "quantitative", "axis": null}, "y": {"datum": 2, "type": "quantitative", "axis": null}, "text": {"value": "−2"}}},
        {"data": {"values": [{}]}, "mark": {"type": "text", "align": "right", "baseline": "alphabetic", "dx": -25, "dy": -17, "font": "Liberation Serif", "fontSize": 19, "color": "black"},
         "encoding": {"x": {"datum": 2, "type": "quantitative", "axis": null}, "y": {"datum": -2, "type": "quantitative", "axis": null}, "text": {"value": "·10"}}},
        {"data": {"values": [{}]}, "mark": {"type": "text", "align": "right", "baseline": "alphabetic", "dx": -7, "dy": -25, "font": "Liberation Serif", "fontSize": 14, "color": "black"},
         "encoding": {"x": {"datum": 2, "type": "quantitative", "axis": null}, "y": {"datum": -2, "type": "quantitative", "axis": null}, "text": {"value": "−2"}}}
      ],
      "resolve": {"axis": {"x": "independent", "y": "independent"}}
    },
    {
      "width": 192, "height": 158, "data": {"name": "d"}, "title": "(d) DNN: Adult",
      "layer": [
        {"transform": [{"filter": "datum.s === 'y = x'"}], "mark": {"type": "line", "stroke": "black", "strokeWidth": 0.9, "strokeDash": [5, 4], "clip": true},
         "encoding": {"x": {"field": "x", "type": "quantitative", "scale": {"domain": [-6, 6]}, "axis": {"values": [-5, 0, 5], "format": "~g", "labelExpr": "replace(datum.label, '\u2212', '\u2212\u2009')", "title": "True Linear Influence"}},
                      "y": {"field": "y", "type": "quantitative", "scale": {"domain": [-6, 6]}, "axis": {"values": [-5, 0, 5], "format": "~g", "labelExpr": "replace(datum.label, '\u2212', '\u2212\u2009')", "title": "Estimated"}}}},
        {"transform": [{"filter": "datum.s !== 'y = x'"}], "mark": {"type": "point", "filled": true, "opacity": 1},
         "encoding": {"x": {"field": "x", "type": "quantitative", "axis": {"orient": "top", "values": [-5, 0, 5], "labels": false, "title": null}},
                      "y": {"field": "y", "type": "quantitative", "axis": {"orient": "right", "values": [-5, 0, 5], "labels": false, "title": null}},
                      "color": {"field": "s", "type": "nominal", "scale": {"domain": ["K&L", "Proposed", "y = x"], "range": ["#ff0000", "#0000ff", "#000000"]},
                                "legend": {"orient": "none", "direction": "horizontal", "legendX": -53, "legendY": -48, "title": null, "strokeColor": "black", "fillColor": "white", "padding": 10, "cornerRadius": 0, "labelFont": "Liberation Serif", "labelFontSize": 18.5, "labelColor": "black", "labelLimit": 0, "labelOffset": 2, "columnPadding": 6, "symbolSize": 40}},
                      "shape": {"field": "s", "type": "nominal", "scale": {"domain": ["K&L", "Proposed", "y = x"], "range": ["square", "circle", "M-14.75,-0.16H-11.9V0.16H-14.75Z M-10,-0.16H-7.15V0.16H-10Z M-5.25,-0.16H-2.4V0.16H-5.25Z"]},
                                "legend": {"orient": "none", "direction": "horizontal", "legendX": -53, "legendY": -48, "title": null, "strokeColor": "black", "fillColor": "white", "padding": 10, "cornerRadius": 0, "labelFont": "Liberation Serif", "labelFontSize": 18.5, "labelColor": "black", "labelLimit": 0, "labelOffset": 2, "columnPadding": 6, "symbolSize": 40}},
                      "size": {"field": "s", "type": "nominal", "scale": {"domain": ["K&L", "Proposed"], "range": [36, 30]}, "legend": null}}},
        {"data": {"values": [{}]}, "mark": {"type": "text", "align": "left", "baseline": "alphabetic", "dx": 8, "dy": 23, "font": "Liberation Serif", "fontSize": 19, "color": "black"},
         "encoding": {"x": {"datum": -6, "type": "quantitative", "axis": null}, "y": {"datum": 6, "type": "quantitative", "axis": null}, "text": {"value": "·10"}}},
        {"data": {"values": [{}]}, "mark": {"type": "text", "align": "left", "baseline": "alphabetic", "dx": 33, "dy": 15, "font": "Liberation Serif", "fontSize": 14, "color": "black"},
         "encoding": {"x": {"datum": -6, "type": "quantitative", "axis": null}, "y": {"datum": 6, "type": "quantitative", "axis": null}, "text": {"value": "−3"}}},
        {"data": {"values": [{}]}, "mark": {"type": "text", "align": "right", "baseline": "alphabetic", "dx": -25, "dy": -17, "font": "Liberation Serif", "fontSize": 19, "color": "black"},
         "encoding": {"x": {"datum": 6, "type": "quantitative", "axis": null}, "y": {"datum": -6, "type": "quantitative", "axis": null}, "text": {"value": "·10"}}},
        {"data": {"values": [{}]}, "mark": {"type": "text", "align": "right", "baseline": "alphabetic", "dx": -7, "dy": -25, "font": "Liberation Serif", "fontSize": 14, "color": "black"},
         "encoding": {"x": {"datum": 6, "type": "quantitative", "axis": null}, "y": {"datum": -6, "type": "quantitative", "axis": null}, "text": {"value": "−3"}}}
      ],
      "resolve": {"axis": {"x": "independent", "y": "independent"}}
    },
    {
      "width": 193, "height": 158, "data": {"name": "e"}, "title": "(e) DNN: 20Newsgroups",
      "layer": [
        {"transform": [{"filter": "datum.s === 'y = x'"}], "mark": {"type": "line", "stroke": "black", "strokeWidth": 0.9, "strokeDash": [5, 4], "clip": true},
         "encoding": {"x": {"field": "x", "type": "quantitative", "scale": {"domain": [-1, 1]}, "axis": {"values": [-1, -0.5, 0, 0.5, 1], "format": "~g", "labelExpr": "replace(datum.label, '\u2212', '\u2212\u2009')", "title": "True Linear Influence"}},
                      "y": {"field": "y", "type": "quantitative", "scale": {"domain": [-1, 1]}, "axis": {"values": [-1, -0.5, 0, 0.5, 1], "format": "~g", "labelExpr": "replace(datum.label, '\u2212', '\u2212\u2009')", "title": "Estimated"}}}},
        {"transform": [{"filter": "datum.s !== 'y = x'"}], "mark": {"type": "point", "filled": true, "opacity": 1},
         "encoding": {"x": {"field": "x", "type": "quantitative", "axis": {"orient": "top", "values": [-1, -0.5, 0, 0.5, 1], "labels": false, "title": null}},
                      "y": {"field": "y", "type": "quantitative", "axis": {"orient": "right", "values": [-1, -0.5, 0, 0.5, 1], "labels": false, "title": null}},
                      "color": {"field": "s", "type": "nominal", "scale": {"domain": ["K&L", "Proposed", "y = x"], "range": ["#ff0000", "#0000ff", "#000000"]},
                                "legend": {"orient": "none", "direction": "horizontal", "legendX": -53, "legendY": -48, "title": null, "strokeColor": "black", "fillColor": "white", "padding": 10, "cornerRadius": 0, "labelFont": "Liberation Serif", "labelFontSize": 18.5, "labelColor": "black", "labelLimit": 0, "labelOffset": 2, "columnPadding": 6, "symbolSize": 40}},
                      "shape": {"field": "s", "type": "nominal", "scale": {"domain": ["K&L", "Proposed", "y = x"], "range": ["square", "circle", "M-14.75,-0.16H-11.9V0.16H-14.75Z M-10,-0.16H-7.15V0.16H-10Z M-5.25,-0.16H-2.4V0.16H-5.25Z"]},
                                "legend": {"orient": "none", "direction": "horizontal", "legendX": -53, "legendY": -48, "title": null, "strokeColor": "black", "fillColor": "white", "padding": 10, "cornerRadius": 0, "labelFont": "Liberation Serif", "labelFontSize": 18.5, "labelColor": "black", "labelLimit": 0, "labelOffset": 2, "columnPadding": 6, "symbolSize": 40}},
                      "size": {"field": "s", "type": "nominal", "scale": {"domain": ["K&L", "Proposed"], "range": [36, 30]}, "legend": null}}},
        {"data": {"values": [{}]}, "mark": {"type": "text", "align": "left", "baseline": "alphabetic", "dx": 8, "dy": 23, "font": "Liberation Serif", "fontSize": 19, "color": "black"},
         "encoding": {"x": {"datum": -1, "type": "quantitative", "axis": null}, "y": {"datum": 1, "type": "quantitative", "axis": null}, "text": {"value": "·10"}}},
        {"data": {"values": [{}]}, "mark": {"type": "text", "align": "left", "baseline": "alphabetic", "dx": 33, "dy": 15, "font": "Liberation Serif", "fontSize": 14, "color": "black"},
         "encoding": {"x": {"datum": -1, "type": "quantitative", "axis": null}, "y": {"datum": 1, "type": "quantitative", "axis": null}, "text": {"value": "−2"}}},
        {"data": {"values": [{}]}, "mark": {"type": "text", "align": "right", "baseline": "alphabetic", "dx": -25, "dy": -17, "font": "Liberation Serif", "fontSize": 19, "color": "black"},
         "encoding": {"x": {"datum": 1, "type": "quantitative", "axis": null}, "y": {"datum": -1, "type": "quantitative", "axis": null}, "text": {"value": "·10"}}},
        {"data": {"values": [{}]}, "mark": {"type": "text", "align": "right", "baseline": "alphabetic", "dx": -7, "dy": -25, "font": "Liberation Serif", "fontSize": 14, "color": "black"},
         "encoding": {"x": {"datum": 1, "type": "quantitative", "axis": null}, "y": {"datum": -1, "type": "quantitative", "axis": null}, "text": {"value": "−2"}}}
      ],
      "resolve": {"axis": {"x": "independent", "y": "independent"}}
    },
    {
      "width": 192, "height": 158, "data": {"name": "f"}, "title": "(f) DNN: MNIST",
      "layer": [
        {"transform": [{"filter": "datum.s === 'y = x'"}], "mark": {"type": "line", "stroke": "black", "strokeWidth": 0.9, "strokeDash": [5, 4], "clip": true},
         "encoding": {"x": {"field": "x", "type": "quantitative", "scale": {"domain": [-8, 8]}, "axis": {"values": [-5, 0, 5], "format": "~g", "labelExpr": "replace(datum.label, '\u2212', '\u2212\u2009')", "title": "True Linear Influence"}},
                      "y": {"field": "y", "type": "quantitative", "scale": {"domain": [-8, 8]}, "axis": {"values": [-5, 0, 5], "format": "~g", "labelExpr": "replace(datum.label, '\u2212', '\u2212\u2009')", "title": "Estimated"}}}},
        {"transform": [{"filter": "datum.s !== 'y = x'"}], "mark": {"type": "point", "filled": true, "opacity": 1},
         "encoding": {"x": {"field": "x", "type": "quantitative", "axis": {"orient": "top", "values": [-5, 0, 5], "labels": false, "title": null}},
                      "y": {"field": "y", "type": "quantitative", "axis": {"orient": "right", "values": [-5, 0, 5], "labels": false, "title": null}},
                      "color": {"field": "s", "type": "nominal", "scale": {"domain": ["K&L", "Proposed", "y = x"], "range": ["#ff0000", "#0000ff", "#000000"]},
                                "legend": {"orient": "none", "direction": "horizontal", "legendX": -53, "legendY": -48, "title": null, "strokeColor": "black", "fillColor": "white", "padding": 10, "cornerRadius": 0, "labelFont": "Liberation Serif", "labelFontSize": 18.5, "labelColor": "black", "labelLimit": 0, "labelOffset": 2, "columnPadding": 6, "symbolSize": 40}},
                      "shape": {"field": "s", "type": "nominal", "scale": {"domain": ["K&L", "Proposed", "y = x"], "range": ["square", "circle", "M-14.75,-0.16H-11.9V0.16H-14.75Z M-10,-0.16H-7.15V0.16H-10Z M-5.25,-0.16H-2.4V0.16H-5.25Z"]},
                                "legend": {"orient": "none", "direction": "horizontal", "legendX": -53, "legendY": -48, "title": null, "strokeColor": "black", "fillColor": "white", "padding": 10, "cornerRadius": 0, "labelFont": "Liberation Serif", "labelFontSize": 18.5, "labelColor": "black", "labelLimit": 0, "labelOffset": 2, "columnPadding": 6, "symbolSize": 40}},
                      "size": {"field": "s", "type": "nominal", "scale": {"domain": ["K&L", "Proposed"], "range": [36, 30]}, "legend": null}}},
        {"data": {"values": [{}]}, "mark": {"type": "text", "align": "left", "baseline": "alphabetic", "dx": 8, "dy": 23, "font": "Liberation Serif", "fontSize": 19, "color": "black"},
         "encoding": {"x": {"datum": -8, "type": "quantitative", "axis": null}, "y": {"datum": 8, "type": "quantitative", "axis": null}, "text": {"value": "·10"}}},
        {"data": {"values": [{}]}, "mark": {"type": "text", "align": "left", "baseline": "alphabetic", "dx": 33, "dy": 15, "font": "Liberation Serif", "fontSize": 14, "color": "black"},
         "encoding": {"x": {"datum": -8, "type": "quantitative", "axis": null}, "y": {"datum": 8, "type": "quantitative", "axis": null}, "text": {"value": "−3"}}},
        {"data": {"values": [{}]}, "mark": {"type": "text", "align": "right", "baseline": "alphabetic", "dx": -25, "dy": -17, "font": "Liberation Serif", "fontSize": 19, "color": "black"},
         "encoding": {"x": {"datum": 8, "type": "quantitative", "axis": null}, "y": {"datum": -8, "type": "quantitative", "axis": null}, "text": {"value": "·10"}}},
        {"data": {"values": [{}]}, "mark": {"type": "text", "align": "right", "baseline": "alphabetic", "dx": -7, "dy": -25, "font": "Liberation Serif", "fontSize": 14, "color": "black"},
         "encoding": {"x": {"datum": 8, "type": "quantitative", "axis": null}, "y": {"datum": -8, "type": "quantitative", "axis": null}, "text": {"value": "−3"}}}
      ],
      "resolve": {"axis": {"x": "independent", "y": "independent"}}
    }
  ],
  "config": {
    "view": {"stroke": "black", "strokeWidth": 1},
    "font": "Liberation Serif",
    "axis": {"domain": false, "grid": false, "ticks": true, "tickSize": -4, "tickColor": "#777777", "tickWidth": 1, "labelFont": "Liberation Serif", "labelFontSize": 18, "labelColor": "black", "labelFlush": false, "labelOverlap": false, "titleFont": "Liberation Serif", "titleFontSize": 23, "titleFontWeight": "normal", "titleColor": "black"},
    "axisBottom": {"labelPadding": 9, "titleY": 49, "titleBaseline": "alphabetic"},
    "axisLeft": {"labelPadding": 13, "titleX": -46, "titleBaseline": "alphabetic"},
    "title": {"font": "Liberation Serif", "fontSize": 23, "fontWeight": "normal", "color": "black", "orient": "bottom", "anchor": "middle", "frame": "group", "offset": 7}
  }
}
